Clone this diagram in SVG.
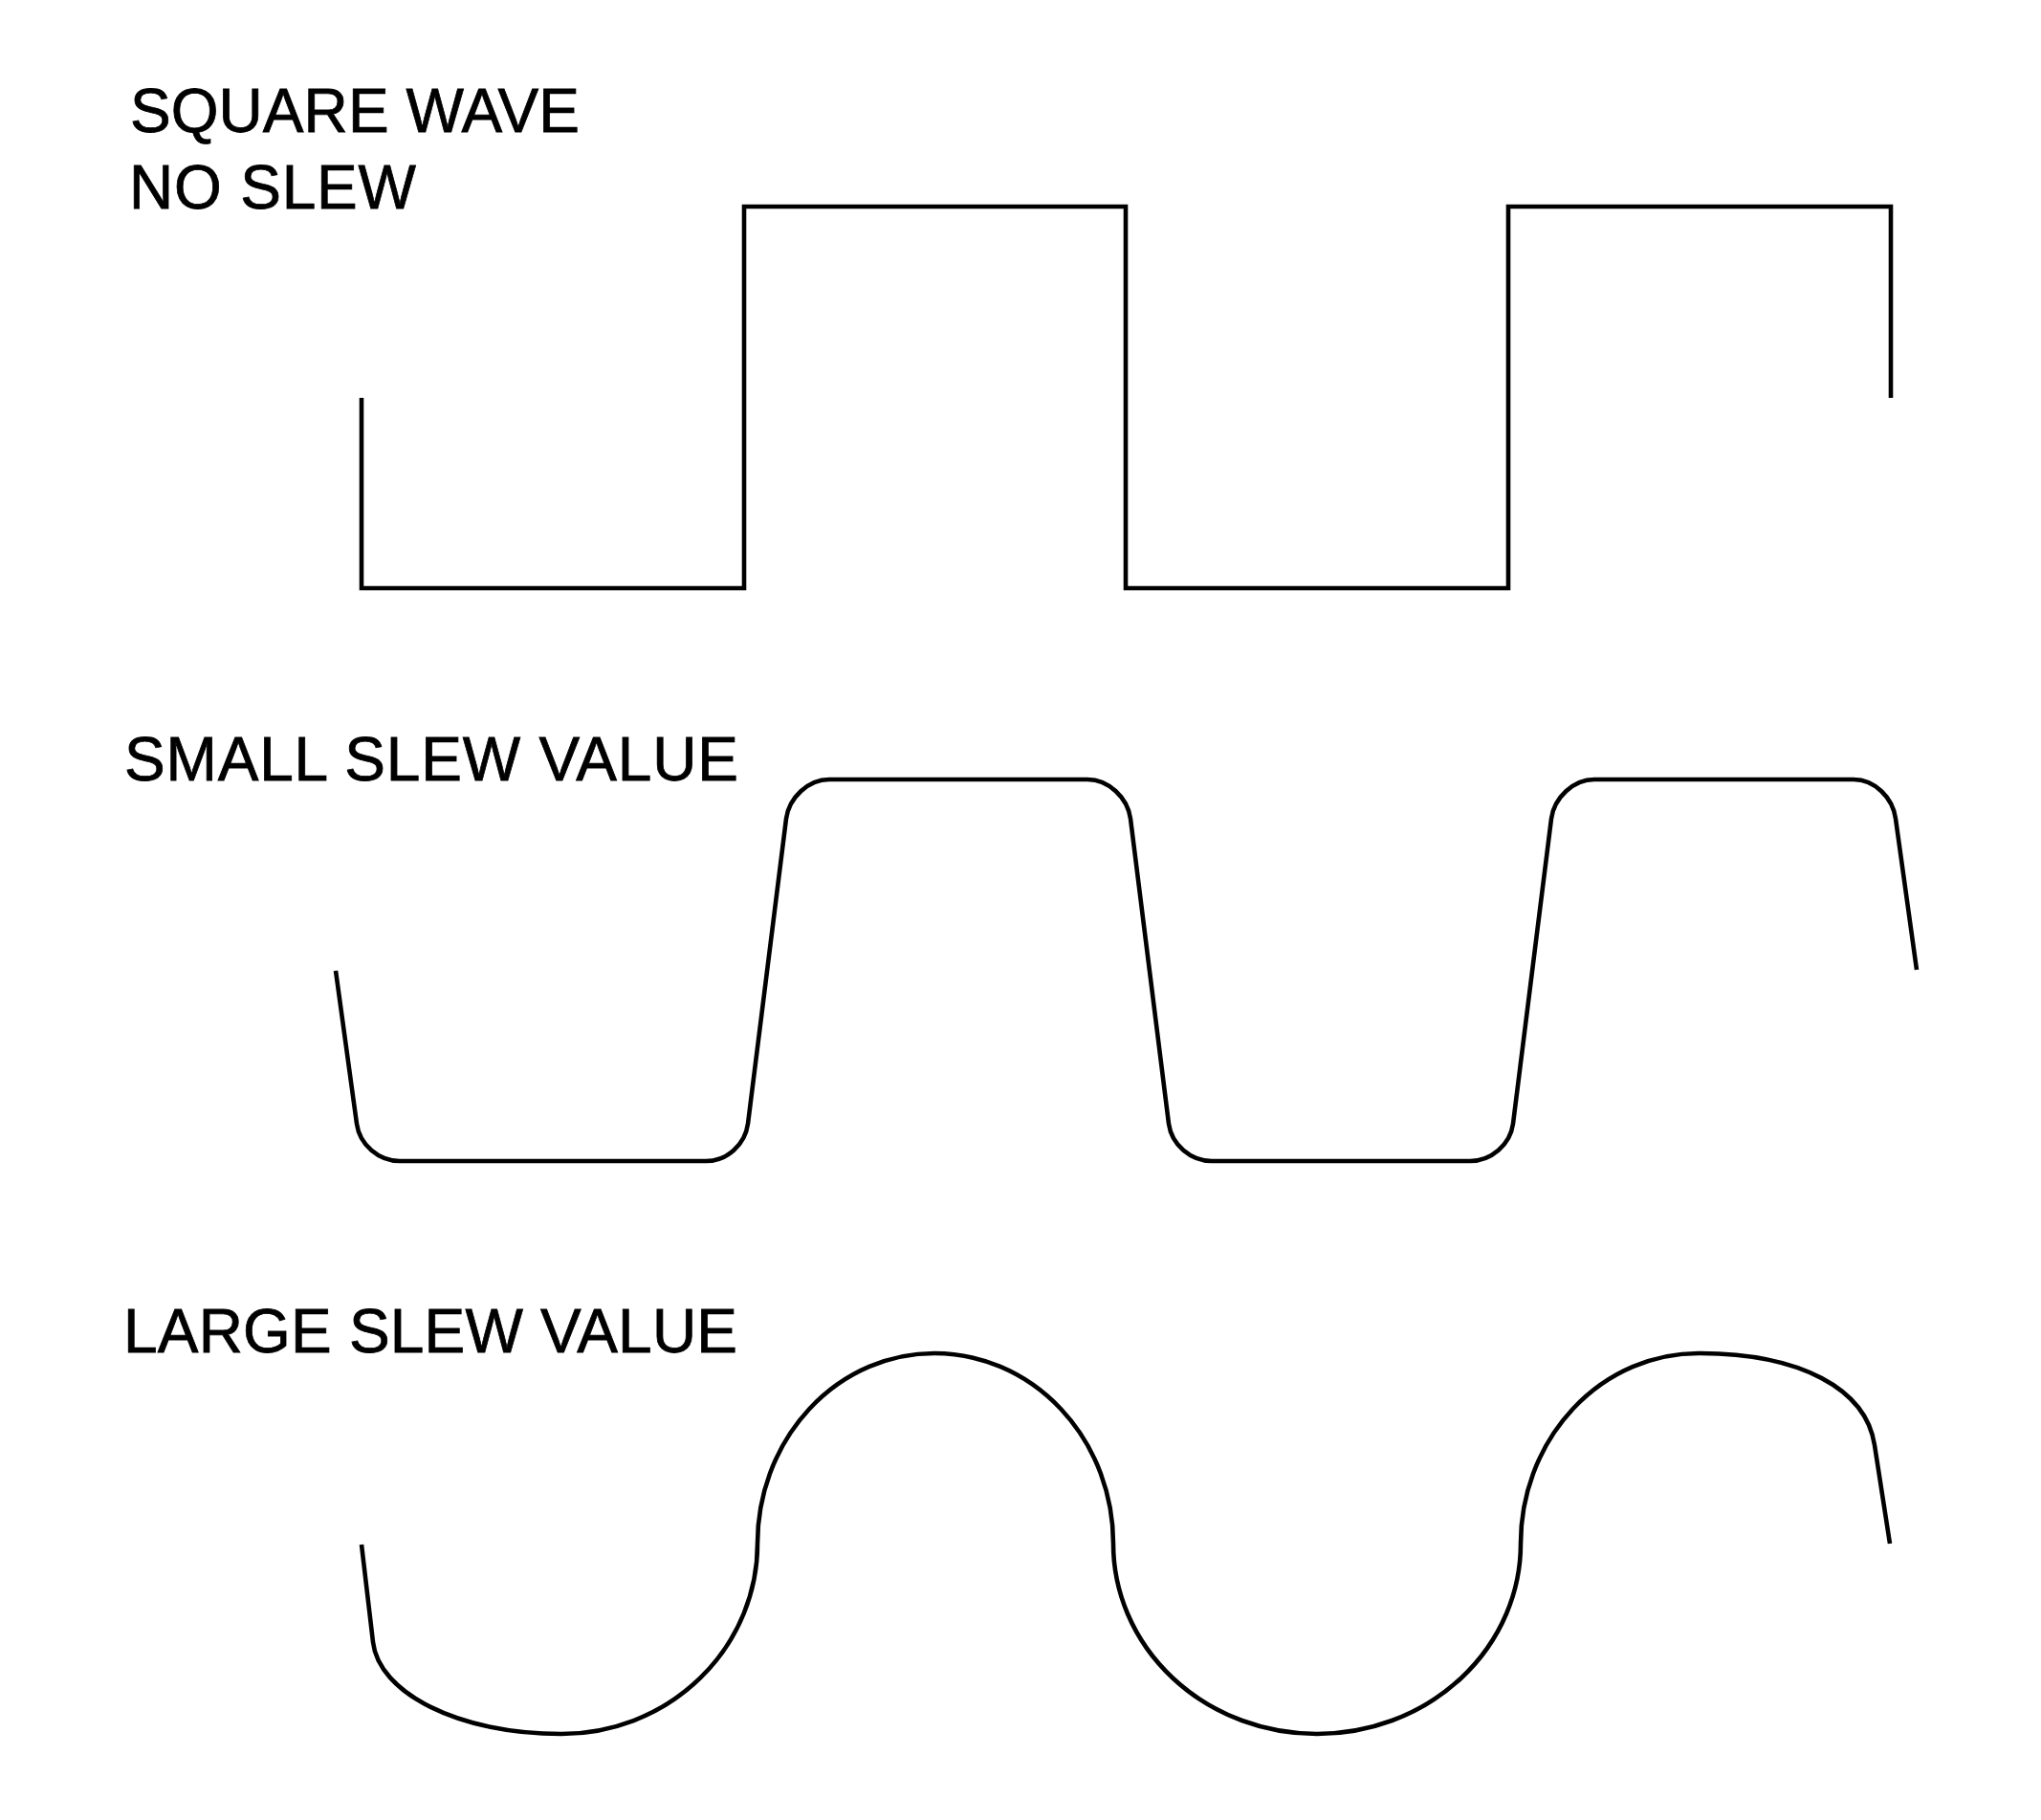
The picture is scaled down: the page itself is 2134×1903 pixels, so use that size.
<svg xmlns="http://www.w3.org/2000/svg" width="2134" height="1903" viewBox="0 0 2134 1903">
  <style>
    .lbl { font-family: "Liberation Sans", Arial, sans-serif; font-size: 64px; fill: #000; stroke: #000; stroke-width: 0.8; }
    .wave { fill: none; stroke: #000; stroke-width: 4.6; stroke-linejoin: miter; stroke-linecap: butt; }
  </style>
  <rect x="0" y="0" width="2134" height="1903" fill="#fff"/>
  <g id="label-square">
    <text class="lbl" x="136" y="138" textLength="470" lengthAdjust="spacing">SQUARE WAVE</text>
    <text class="lbl" x="135" y="218" textLength="300" lengthAdjust="spacing">NO SLEW</text>
  </g>
  <g id="label-small">
    <text class="lbl" x="130" y="816" textLength="642" lengthAdjust="spacing">SMALL SLEW VALUE</text>
  </g>
  <g id="label-large">
    <text class="lbl" x="129" y="1414" textLength="642" lengthAdjust="spacing">LARGE SLEW VALUE</text>
  </g>
  <g id="waves">
    <path id="wave-square" class="wave" d="M378,416 V615 H778 V216 H1177 V615 H1577 V216 H1977 V416"/>
    <path id="wave-small" class="wave" d="M351,1015 L373,1175 C376,1197 396,1214 418,1214 H738 C760,1214 779,1197 782,1175 L822,856 C825,834 845,815 867,815 H1137 C1159,815 1179,834 1182,856 L1222,1175 C1225,1197 1245,1214 1267,1214 H1537 C1559,1214 1579,1197 1582,1175 L1622,856 C1625,834 1645,815 1667,815 H1938 C1960,815 1979,834 1982,856 L2004,1014"/>
    <path id="wave-large" class="wave" d="M378,1615 L390,1717 C396,1770 479,1813 587,1813 A205,199 0 0 0 792,1614 A185,199 0 0 1 977,1415 A187,199 0 0 1 1164,1614 A213,199 0 0 0 1377,1813 A213,199 0 0 0 1590,1614 A186,199 0 0 1 1776,1415 C1882,1415 1951,1452 1960,1511 L1976,1614"/>
  </g>
</svg>
